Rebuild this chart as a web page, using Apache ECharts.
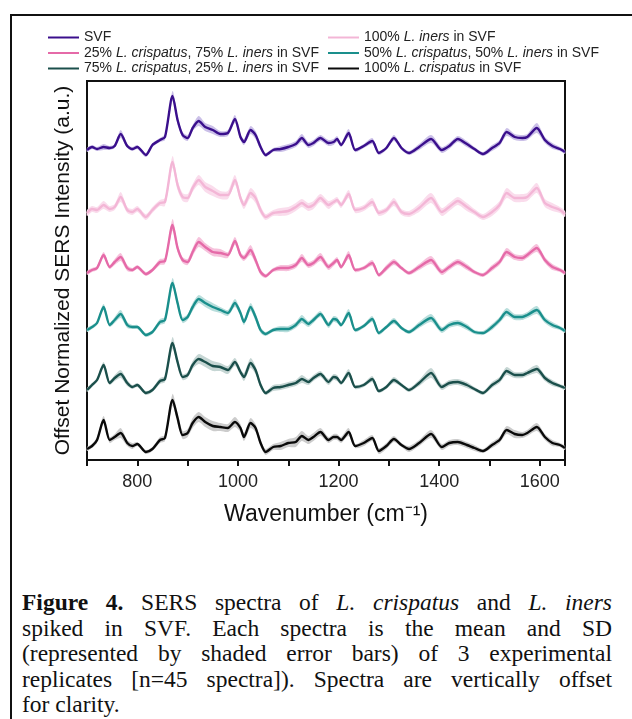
<!DOCTYPE html>
<html><head><meta charset="utf-8">
<script src="https://cdn.jsdelivr.net/npm/echarts@6/dist/echarts.min.js"></script>
<style>
html,body{margin:0;padding:0;background:#fff;width:632px;height:719px;overflow:hidden;}
#frame{position:absolute;left:10px;top:14px;width:700px;height:800px;border:2px solid #111;box-sizing:border-box;}
#chart{position:absolute;left:0;top:0;width:632px;height:560px;}
#caption{position:absolute;left:22px;top:590px;width:590px;font-family:"Liberation Serif","Times New Roman",serif;font-size:23.5px;line-height:25.5px;color:#111;}
#caption .j{text-align:justify;text-align-last:justify;}
</style></head>
<body>
<div id="frame"></div>
<div id="chart"></div>
<div id="caption">
<div class="j"><b>Figure 4.</b> SERS spectra of <i>L. crispatus</i> and <i>L. iners</i></div>
<div class="j">spiked in SVF. Each spectra is the mean and SD</div>
<div class="j">(represented by shaded error bars) of 3 experimental</div>
<div class="j">replicates [n=45 spectra]). Spectra are vertically offset</div>
<div>for clarity.</div>
</div>
<script>
// wavenumber grid (cm^-1)
const wavenumber = [700,710,720,733,745,755,767,780,790,800,817,830,845,855,870,880,890,900,910,922,935,950,965,980,994,1005,1012,1025,1035,1045,1055,1070,1085,1100,1115,1127,1140,1150,1164,1180,1190,1197,1205,1220,1233,1250,1267,1280,1295,1310,1325,1340,1360,1384,1405,1420,1437,1455,1470,1487,1505,1520,1534,1550,1565,1575,1594,1610,1625,1640,1650];
const xTicks = [800,1000,1200,1400,1600];

// offset mean intensities (a.u.)
const svf = [310,313,311,313,312,314,326,314,311,313,305,315,320,323,364,340,325,322,332,339,333,330,326,327,341,323,318,330,325,313,305,310,311,313,316,322,315,317,322,317,318,321,315,327,310,314,319,307,312,322,312,307,313,321,310,314,321,316,311,306,312,317,328,323,322,323,332,320,314,311,308];
const iners100 = [247,251,250,255,251,253,263,250,248,251,243,250,257,258,298,275,263,262,272,280,273,269,265,265,280,262,255,267,262,250,243,247,248,249,253,257,253,255,262,255,258,260,255,266,250,252,258,247,250,258,248,246,252,262,248,253,259,253,248,243,248,255,267,262,262,263,272,257,253,250,246];
const crisp25 = [187,190,192,205,193,198,203,192,190,193,186,190,198,199,235,212,200,198,208,218,213,208,207,205,219,205,202,210,200,188,184,190,192,192,195,202,195,197,203,193,197,200,193,205,190,192,197,185,192,198,192,187,193,200,188,193,198,193,188,185,192,198,208,203,202,205,212,200,193,190,187];
const crisp50 = [130,133,137,153,135,140,146,135,133,133,125,128,138,140,177,157,140,143,153,161,157,153,150,147,157,147,138,153,143,130,126,130,131,131,135,141,136,140,146,135,141,140,135,147,130,134,141,127,133,139,132,128,135,142,130,135,137,133,128,127,133,140,148,143,143,145,150,140,135,132,129];
const crisp75 = [70,75,80,95,77,82,86,77,73,75,67,70,79,81,117,98,83,85,95,101,98,94,93,90,98,88,83,97,90,75,67,72,73,75,77,81,78,82,86,78,83,82,77,87,73,75,81,69,73,80,75,70,77,87,73,77,78,75,71,67,75,80,89,85,85,87,91,82,77,74,72];
const crisp100 = [11,14,20,40,20,23,27,17,14,16,8,11,20,22,60,42,25,27,37,43,38,34,33,32,38,32,23,37,32,17,8,13,14,17,18,24,20,23,28,20,23,23,20,28,14,17,22,9,14,21,15,11,17,26,13,17,18,15,12,9,15,20,30,26,25,27,33,23,17,15,12];

// standard deviations (half-width of shaded band, a.u.)
const sdSvf = [2,2,2,3,2,2,4,2,2,2,2,2,2,3,5,4,3,3,3,5,4,4,3,3,4,3,3,4,4,3,2,2,3,3,3,4,3,3,3,3,3,3,2,4,2,2,3,2,2,3,2,2,3,4,3,3,3,3,2,2,3,3,4,3,3,3,5,3,3,2,2];
const sdIners100 = [3,3,3,4,3,3,5,3,3,3,3,3,3,4,6,5,4,4,4,5,5,5,4,4,5,4,4,5,5,4,3,3,4,4,4,4,4,4,4,4,3,3,3,4,3,3,4,3,3,4,3,3,4,5,4,4,4,4,3,3,4,4,5,4,4,4,5,4,4,3,3];
const sdCrisp25 = [2,2,2,3,2,3,4,3,2,2,2,2,3,3,6,4,3,3,4,5,4,4,4,3,4,3,3,5,4,3,2,2,3,3,3,4,3,3,4,3,3,3,2,4,2,2,3,2,3,3,2,2,3,4,3,3,3,3,2,2,3,3,4,3,3,3,4,3,3,2,2];
const sdCrisp50 = [2,2,2,3,2,3,4,3,2,2,2,2,3,3,5,4,3,3,4,4,4,4,3,3,4,3,3,4,4,3,2,2,3,3,3,4,3,3,3,3,3,3,2,4,2,2,3,2,2,3,2,2,3,4,3,3,3,3,2,2,3,3,4,3,3,3,4,3,3,2,2];
const sdCrisp75 = [2,2,2,3,2,3,4,3,2,2,2,2,3,3,6,4,3,3,4,5,5,5,4,4,4,3,4,5,4,3,2,3,3,3,3,4,3,3,3,3,3,3,2,4,2,2,3,2,2,3,2,2,3,5,3,3,3,3,2,2,3,3,4,3,3,3,4,3,3,2,2];
const sdCrisp100 = [2,2,3,4,3,3,5,3,3,2,2,2,3,3,6,5,4,4,5,5,5,5,4,4,5,4,4,5,4,3,3,3,4,4,5,5,4,4,4,3,3,3,3,4,2,3,3,3,3,3,2,3,3,4,3,3,3,3,3,2,3,3,4,4,3,3,4,3,3,2,2];

const names = ['SVF','100% L. iners in SVF','25% L. crispatus, 75% L. iners in SVF','50% L. crispatus, 50% L. iners in SVF','75% L. crispatus, 25% L. iners in SVF','100% L. crispatus in SVF'];
const lineColors = ['#3a0f8c','#f3b6d6','#e56aa8','#1a8f8c','#1b4f4b','#0a0a0a'];
const bandColors = ['#cbc0e8','#fadcec','#f6c2dc','#b9dedc','#c6d6d4','#cccccc'];
const means = [svf,iners100,crisp25,crisp50,crisp75,crisp100];
const sds = [sdSvf,sdIners100,sdCrisp25,sdCrisp50,sdCrisp75,sdCrisp100];

const FONT = '"Liberation Sans", Arial, sans-serif';

function bandSeries(mean, sd, color, name){
  return {
    type:'custom', name: name + ' SD', silent:true, z:1,
    data: wavenumber.map((w,i)=>[w, mean[i]-sd[i], mean[i]+sd[i]]),
    encode:{x:0, y:[1,2]},
    renderItem:(params, api)=>{
      if(params.dataIndex!==0) return null;
      const up=[], lo=[];
      for(let i=0;i<wavenumber.length;i++){
        up.push(api.coord([wavenumber[i], mean[i]+sd[i]]));
        lo.push(api.coord([wavenumber[i], mean[i]-sd[i]]));
      }
      return {type:'polygon', shape:{points: up.concat(lo.reverse()), smooth:0.25}, style:{fill:color}};
    }
  };
}

const series = [];
means.forEach((m,k)=>series.push(bandSeries(m, sds[k], bandColors[k], names[k])));
means.forEach((m,k)=>series.push({
  type:'line', name:names[k], color:lineColors[k], z:3,
  data: wavenumber.map((w,i)=>[w, m[i]]),
  showSymbol:false, smooth:0.25, lineStyle:{width:2.4, color:lineColors[k]}
}));

function fmt(n){
  return n.replace(/L\. (crispatus|iners)/g, '{i|L. $1}');
}
const legendCommon = {
  orient:'vertical', icon:'rect', itemWidth:31, itemHeight:2, itemGap:0.5, padding:0,
  formatter: fmt,
  textStyle:{fontFamily:FONT, fontSize:14, color:'#222', lineHeight:15,
    rich:{i:{fontStyle:'italic', fontFamily:FONT, fontSize:14, color:'#222', lineHeight:15}}}
};

const chart = echarts.init(document.getElementById('chart'), null, {renderer:'canvas'});
chart.setOption({
  animation:false,
  backgroundColor:'transparent',
  grid:{left:87, right:67, top:81, bottom:100, show:true, borderWidth:2, borderColor:'#111', backgroundColor:'transparent'},
  legend:[
    Object.assign({data:[names[0],names[2],names[4]], left:48, top:30}, legendCommon),
    Object.assign({data:[names[1],names[3],names[5]], left:328, top:30}, legendCommon)
  ],
  xAxis:{
    type:'value', min:700, max:1650, interval:100,
    name:'Wavenumber (cm⁻¹)', nameLocation:'middle', nameGap:43,
    nameTextStyle:{fontFamily:FONT, fontSize:23, color:'#111'},
    axisLine:{lineStyle:{color:'#111', width:2}},
    axisTick:{show:true, length:6, lineStyle:{color:'#111', width:2}},
    axisLabel:{fontFamily:FONT, fontSize:18, color:'#222', margin:13,
      formatter:v=> xTicks.indexOf(v)>=0 ? String(v) : ''},
    splitLine:{show:false}
  },
  yAxis:{
    type:'value', min:0, max:379,
    name:'Offset Normalized SERS Intensity (a.u.)', nameLocation:'middle', nameGap:13,
    nameTextStyle:{fontFamily:FONT, fontSize:21, color:'#111'},
    axisLine:{show:true, lineStyle:{color:'#111', width:2}},
    axisTick:{show:false}, axisLabel:{show:false}, splitLine:{show:false}
  },
  series: series
});
</script>
</body></html>
